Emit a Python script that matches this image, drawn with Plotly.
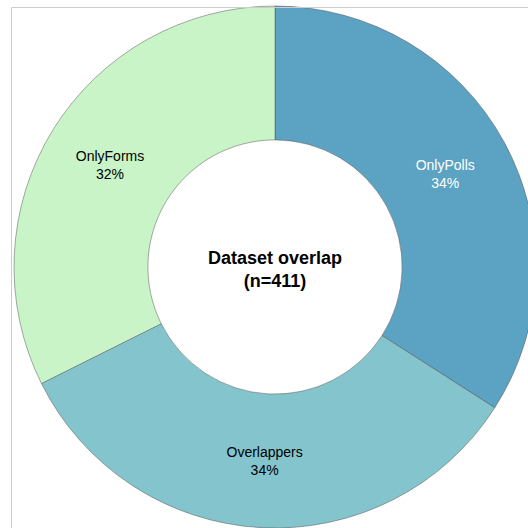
import plotly.graph_objects as go

labels = ["OnlyPolls", "Overlappers", "OnlyForms"]
counts = [140, 138, 133]
colors = ["#5ca3c3", "#84c5cd", "#c8f4c8"]
text_colors = ["white", "black", "black"]
center_title = "Dataset overlap"
n_total = sum(counts)

W, H = 560, 560
CX, CY, R = 275, 267, 261  # pixel layout of the donut inside the figure

fig = go.Figure(go.Pie(
    labels=labels,
    values=counts,
    sort=False,
    direction="clockwise",
    rotation=0,
    hole=0.487,
    texttemplate="%{label}<br>%{percent:.0%}",
    textposition="inside",
    insidetextorientation="horizontal",
    insidetextfont=dict(color=text_colors, size=14, family="Liberation Sans, Arial"),
    marker=dict(colors=colors, line=dict(color="rgba(70,70,70,0.45)", width=1)),
    showlegend=False,
    hoverinfo="label+value+percent",
    domain=dict(x=[(CX - R) / W, (CX + R) / W],
                y=[(H - CY - R) / H, (H - CY + R) / H]),
))

fig.add_annotation(
    x=CX / W, y=(H - CY - 2) / H, xref="paper", yref="paper",
    text=f"<b>{center_title}<br>(n={n_total})</b>",
    showarrow=False,
    font=dict(size=18, color="black", family="Liberation Sans, Arial"),
    align="center",
)

# light frame lines (top and left)
fx, fy = 11.5, 7.5
fig.add_shape(type="line", xref="paper", yref="paper",
              x0=fx / W, x1=1.2, y0=1 - fy / H, y1=1 - fy / H,
              line=dict(color="#cccccc", width=1))
fig.add_shape(type="line", xref="paper", yref="paper",
              x0=fx / W, x1=fx / W, y0=-0.2, y1=1 - fy / H,
              line=dict(color="#cccccc", width=1))

fig.update_layout(
    width=W, height=H,
    margin=dict(l=0, r=0, t=0, b=0),
    paper_bgcolor="white",
    plot_bgcolor="white",
    font=dict(family="Liberation Sans, Arial", size=14),
)

fig.write_html(
    "out.html",
    config={"displayModeBar": False},
    post_script="document.body.style.margin='0';document.body.style.overflow='hidden';document.documentElement.style.overflow='hidden';",
)
